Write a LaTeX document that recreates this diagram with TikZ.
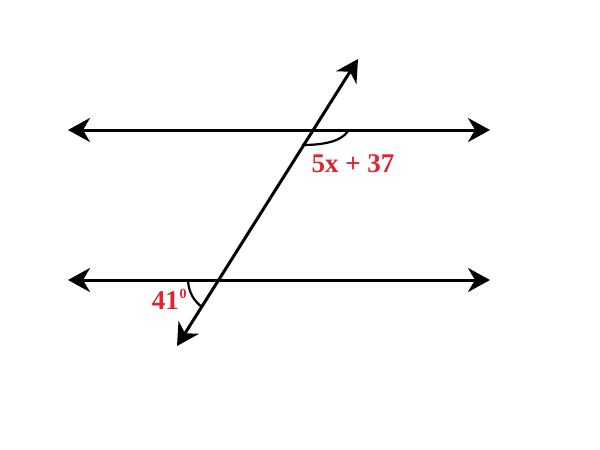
\documentclass[tikz,border=0pt]{standalone}
\usepackage{fontspec}
\setmainfont{Liberation Serif}
\usetikzlibrary{arrows.meta}
\definecolor{lbl}{RGB}{220,38,48}
\begin{document}
\begin{tikzpicture}[x=1pt,y=-1pt,
  ln/.style={line width=3pt,{Stealth[length=22pt,width=24pt,inset=7pt]}-{Stealth[length=22pt,width=24pt,inset=7pt]}},
  arcline/.style={line width=2.2pt},
  lab/.style={text=lbl,font=\bfseries\fontsize{27}{30}\selectfont,inner sep=0pt}]
\useasboundingbox (0,0) rectangle (600,450);
\coordinate (tl) at (68,130);
\coordinate (tr) at (490,130);
\coordinate (bl) at (68,280);
\coordinate (br) at (490,280);
\coordinate (ts) at (177,346);
\coordinate (te) at (358,59);
\draw[ln] (tl) -- (tr);
\draw[ln] (bl) -- (br);
\draw[ln] (ts) -- (te);
\coordinate (a1) at (348,131);
\coordinate (a2) at (302,145);
\draw[arcline] (a1) .. controls (341,142) and (322,145) .. (a2);
\coordinate (b1) at (188,281);
\coordinate (b2) at (202,307);
\draw[arcline] (b1) .. controls (189,293) and (194,301) .. (b2);
\node[lab] (l1) at (353,164) {5x + 37};
\node[lab,anchor=east] (l2) at (179,301) {41};
\node[text=lbl,font=\bfseries\fontsize{14}{15}\selectfont,inner sep=0pt] (l3) at (183,294) {0};
\end{tikzpicture}
\end{document}
